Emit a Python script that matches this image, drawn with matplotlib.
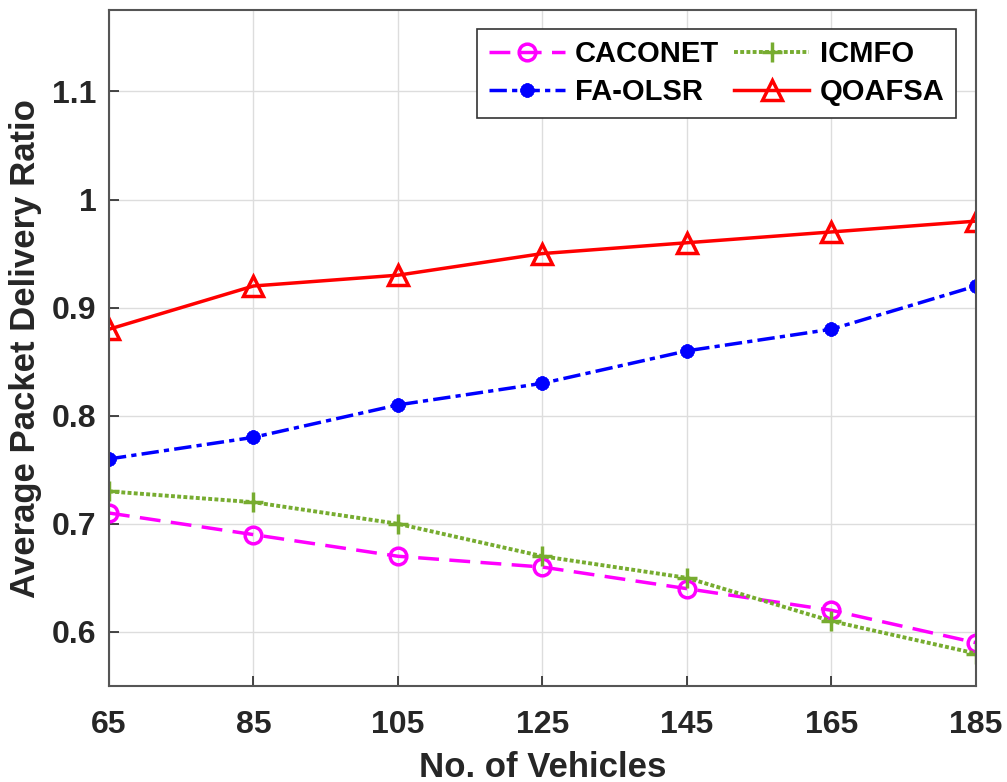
import matplotlib.pyplot as plt

vehicles = [65, 85, 105, 125, 145, 165, 185]
caconet = [0.71, 0.69, 0.67, 0.66, 0.64, 0.62, 0.59]
icmfo = [0.73, 0.72, 0.70, 0.67, 0.65, 0.61, 0.58]
fa_olsr = [0.76, 0.78, 0.81, 0.83, 0.86, 0.88, 0.92]
qoafsa = [0.88, 0.92, 0.93, 0.95, 0.96, 0.97, 0.98]
yticks = [0.6, 0.7, 0.8, 0.9, 1.0, 1.1]
ytick_labels = ["0.6", "0.7", "0.8", "0.9", "1", "1.1"]

plt.rcParams['font.family'] = ['Liberation Sans', 'DejaVu Sans']
plt.rcParams['font.weight'] = 'bold'

fig = plt.figure(figsize=(10.07, 7.82), dpi=100)
ax = fig.add_axes([0.1082, 0.1228, 0.861, 0.864])

l1, = ax.plot(vehicles, caconet, color='#FF00FF', linestyle=(0, (6, 3)), linewidth=2.5,
              marker='o', markersize=12, markerfacecolor='none', markeredgewidth=2.5, label='CACONET')
l2, = ax.plot(vehicles, icmfo, color='#77AC30', linestyle=(0, (1, 0.6)), linewidth=2.8,
              marker='+', markersize=14, markeredgewidth=2.5, label='ICMFO')
l3, = ax.plot(vehicles, fa_olsr, color='#0000FF', linestyle=(0, (5, 1.5, 1.5, 1.5)), linewidth=2.5,
              marker=(8, 2, 0), markersize=10, markeredgewidth=3, label='FA-OLSR')
l4, = ax.plot(vehicles, qoafsa, color='#FF0000', linestyle='-', linewidth=2.5,
              marker='^', markersize=14, markerfacecolor='none', markeredgewidth=2.5, label='QOAFSA')

ax.set_xlim(65, 185)
ax.set_ylim(0.55, 1.175)
ax.set_xticks(vehicles)
ax.set_yticks(yticks)
ax.set_yticklabels(ytick_labels)
ax.tick_params(direction='in', labelsize=23, length=7, width=1.2, colors='#262626')
ax.tick_params(axis='y', pad=9)
ax.tick_params(axis='x', pad=17)
ax.grid(True, color='#dddddd', linewidth=1)
for s in ax.spines.values():
    s.set_color('#555555')
    s.set_linewidth(1.5)

ax.set_xlabel("No. of Vehicles", fontsize=25, fontweight='bold', color='#262626', labelpad=8)
ax.set_ylabel("Average Packet Delivery Ratio", fontsize=25, fontweight='bold', color='#262626', labelpad=7)

# column-wise fill: CACONET/FA-OLSR in col 1, ICMFO/QOAFSA in col 2
leg = ax.legend([l1, l3, l2, l4], ['CACONET', 'FA-OLSR', 'ICMFO', 'QOAFSA'],
                ncol=2, loc='upper right', bbox_to_anchor=(0.977, 0.973), fontsize=21,
                frameon=True, fancybox=False, edgecolor='#333333', framealpha=1,
                handlelength=2.6, columnspacing=0.5, handletextpad=0.35,
                borderpad=0.4, labelspacing=0.35, borderaxespad=0)
leg.get_frame().set_linewidth(1.2)

fig.savefig("out.png", dpi=100)
